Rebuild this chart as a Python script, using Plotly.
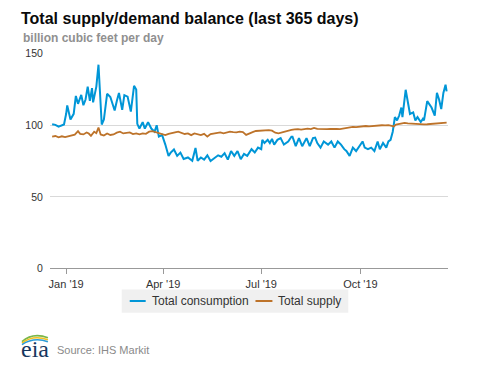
import pandas as pd
import plotly.graph_objects as go

# ---- data (day offsets from 2019-01-01, values in Bcf/d) ----
consumption_day = [-13, -10, -7, -5, -2, 0, 1, 4, 7, 9, 11, 14, 16, 18, 20, 22, 24, 25, 28, 30,
                   32, 33, 35, 38, 41, 45, 47, 49, 52, 54, 57, 60, 63, 65, 66, 68, 71, 73, 76, 79,
                   82, 84, 86, 89, 92, 95, 97, 100, 103, 106, 109, 113, 117, 120, 122, 125, 128, 131, 134, 137,
                   141, 144, 147, 150, 153, 156, 159, 162, 165, 168, 172, 175, 178, 181, 182, 184, 187, 189, 191, 193,
                   196, 199, 202, 206, 209, 210, 213, 216, 219, 223, 226, 229, 231, 233, 236, 239, 243, 246, 249, 252,
                   255, 258, 260, 263, 266, 269, 272, 275, 277, 280, 283, 286, 289, 291, 294, 297, 299, 301, 303, 305,
                   307, 309, 311, 312, 315, 317, 319, 322, 324, 326, 329, 331, 332, 335, 337, 339, 342, 344, 346, 348,
                   350, 352, 353]
consumption_val = [100.7, 100.3, 99.0, 99.5, 100.5, 108.0, 113.9, 104.0, 108.0, 120.5, 115.0, 121.2, 114.0, 118.0, 127.0, 117.0, 125.9, 116.0, 127.0, 142.3,
                   119.0, 100.5, 104.0, 122.0, 119.8, 110.3, 117.0, 122.6, 110.8, 121.0, 120.0, 109.6, 127.6, 125.0, 101.0, 97.7, 102.2, 97.7, 102.2, 97.7,
                   95.5, 100.0, 92.1, 93.2, 86.5, 78.6, 80.9, 83.1, 78.6, 80.9, 76.4, 77.5, 75.2, 84.2, 75.2, 77.5, 76.0, 79.0, 75.0, 77.0,
                   79.0, 78.0, 80.5, 76.0, 82.0, 78.6, 82.0, 76.3, 80.0, 78.6, 83.3, 81.0, 84.4, 83.3, 89.8, 87.6, 89.8, 87.6, 90.5, 86.5,
                   89.8, 91.0, 86.5, 88.7, 92.0, 92.0, 85.4, 91.0, 85.4, 91.0, 85.4, 91.0, 91.4, 87.6, 84.4, 88.7, 86.5, 88.7, 84.4, 88.7,
                   86.5, 83.3, 82.0, 78.6, 84.4, 82.0, 85.4, 88.7, 84.4, 83.3, 84.4, 82.0, 88.7, 83.3, 87.6, 84.4, 88.7, 89.8, 95.5, 105.7,
                   103.4, 106.8, 112.4, 105.7, 124.8, 116.9, 107.9, 109.0, 103.4, 105.7, 102.3, 104.5, 103.4, 116.9, 114.7, 112.4, 106.8, 122.6, 118.0, 111.3,
                   122.6, 128.3, 123.7]

supply_day = [-13, -10, -7, -4, -1, 2, 5, 8, 11, 13, 16, 19, 21, 23, 26, 28, 30, 32, 35, 38,
              41, 44, 47, 50, 53, 56, 59, 62, 65, 68, 71, 74, 77, 80, 83, 86, 89, 92, 95, 98,
              101, 104, 107, 110, 113, 116, 119, 122, 125, 128, 131, 134, 137, 140, 143, 146, 149, 152, 155, 158,
              161, 164, 167, 170, 173, 176, 179, 182, 185, 188, 191, 194, 197, 200, 203, 206, 209, 212, 215, 218,
              221, 224, 227, 230, 233, 236, 239, 242, 245, 248, 251, 254, 257, 260, 263, 266, 269, 272, 275, 278,
              281, 284, 287, 290, 293, 296, 299, 302, 304, 306, 309, 312, 314, 317, 320, 323, 326, 329, 332, 335,
              338, 341, 344, 347, 350, 353]
supply_val = [92.1, 92.5, 91.6, 92.3, 91.8, 92.4, 92.8, 93.5, 95.9, 94.0, 93.6, 95.0, 94.2, 92.6, 95.5, 94.5, 98.4, 93.6, 92.8, 94.3,
              93.2, 93.6, 94.8, 95.5, 94.3, 94.6, 95.0, 93.8, 94.3, 93.6, 94.3, 94.0, 95.5, 95.9, 95.2, 94.3, 93.8, 93.1, 94.0, 94.3,
              95.0, 95.5, 94.6, 93.9, 94.3, 93.1, 94.3, 93.8, 93.1, 94.0, 92.1, 93.8, 94.3, 94.6, 95.0, 94.3, 94.8, 95.5, 95.2, 95.0,
              95.5, 95.3, 93.3, 94.4, 95.2, 96.0, 96.2, 96.6, 96.4, 96.6, 96.2, 94.8, 94.4, 95.0, 95.8, 96.6, 96.8, 97.1, 97.3, 96.9,
              97.3, 97.6, 97.3, 98.2, 97.5, 97.3, 97.6, 97.3, 97.4, 97.7, 97.5, 97.3, 97.8, 98.2, 98.5, 98.9, 98.7, 99.0, 99.3, 99.5,
              99.2, 99.5, 99.6, 99.8, 100.0, 99.9, 100.1, 99.6, 99.2, 100.5, 101.1, 101.3, 101.6, 101.3, 101.1, 100.9, 100.7, 100.5, 100.6, 100.7,
              100.9, 101.1, 100.8, 101.2, 101.5, 101.8]

tick_dates = ["2019-01-01", "2019-04-01", "2019-07-01", "2019-10-01"]
tick_labels = ["Jan '19", "Apr '19", "Jul '19", "Oct '19"]
y_ticks = [0, 50, 100, 150]

title_text = "Total supply/demand balance (last 365 days)"
subtitle_text = "billion cubic feet per day"
source_text = "Source: IHS Markit"
series_names = ["Total consumption", "Total supply"]
colors = ["#0096d7", "#bd732a"]

# ---- figure ----
W, H = 477, 367
def px(x):
    return x / W
def py(y):
    return 1 - y / H

base = pd.Timestamp("2019-01-01")
c_dates = base + pd.to_timedelta(consumption_day, unit="D")
s_dates = base + pd.to_timedelta(supply_day, unit="D")

fig = go.Figure()
fig.add_trace(go.Scatter(x=c_dates, y=consumption_val, mode="lines", name=series_names[0],
                         line=dict(color=colors[0], width=2)))
fig.add_trace(go.Scatter(x=s_dates, y=supply_val, mode="lines", name=series_names[1],
                         line=dict(color=colors[1], width=1.8)))

font_main = "Liberation Sans, Arial, Helvetica, sans-serif"

fig.update_layout(
    width=W, height=H,
    margin=dict(l=0, r=0, t=0, b=0),
    paper_bgcolor="white", plot_bgcolor="white",
    showlegend=False,
    font=dict(family=font_main, color="#333333"),
    xaxis=dict(
        domain=[px(49), px(448)],
        range=["2018-12-16 22:00", "2019-12-21 08:00"],
        type="date",
        tickvals=tick_dates, ticktext=tick_labels,
        ticks="outside", ticklen=5, tickcolor="#999999", tickwidth=1,
        showline=True, linecolor="#999999", linewidth=1,
        showgrid=False, zeroline=False,
        tickfont=dict(size=11, color="#333333"),
        fixedrange=True,
    ),
    yaxis=dict(
        domain=[py(271.3), py(49.3)],
        range=[0, 150],
        tickvals=y_ticks,
        showgrid=True, gridcolor="#d9d9d9", gridwidth=1,
        zeroline=False, showline=False, ticks="",
        tickfont=dict(size=10.5, color="#333333"),
        ticklabelstandoff=6,
        fixedrange=True,
    ),
)

annotations = [
    dict(text="<b>" + title_text + "</b>", x=px(18), y=py(13), xref="paper", yref="paper",
         xanchor="left", yanchor="middle", showarrow=False,
         font=dict(size=16, color="#0a0a0a", family=font_main)),
    dict(text="<b>" + subtitle_text + "</b>", x=px(20), y=py(33), xref="paper", yref="paper",
         xanchor="left", yanchor="middle", showarrow=False,
         font=dict(size=12, color="#909090", family=font_main)),
    dict(text=series_names[0], x=px(149), y=py(305), xref="paper", yref="paper",
         xanchor="left", yanchor="middle", showarrow=False,
         font=dict(size=12, color="#333333", family=font_main)),
    dict(text=series_names[1], x=px(276), y=py(305), xref="paper", yref="paper",
         xanchor="left", yanchor="middle", showarrow=False,
         font=dict(size=12, color="#333333", family=font_main)),
    dict(text="eia", x=px(18), y=py(355), xref="paper", yref="paper",
         xanchor="left", yanchor="middle", showarrow=False,
         font=dict(size=24, color="#17375e", family="Liberation Serif, DejaVu Serif, serif")),
    dict(text=source_text, x=px(54), y=py(356), xref="paper", yref="paper",
         xanchor="left", yanchor="middle", showarrow=False,
         font=dict(size=11, color="#8a8a8a", family=font_main)),
]

shapes = [
    dict(type="rect", xref="paper", yref="paper", x0=px(121), x1=px(348), y0=py(317), y1=py(293),
         fillcolor="#f0f0f0", line=dict(width=0), layer="below"),
    dict(type="line", xref="paper", yref="paper", x0=px(129), x1=px(145), y0=py(305), y1=py(305),
         line=dict(color=colors[0], width=2)),
    dict(type="line", xref="paper", yref="paper", x0=px(255), x1=px(272), y0=py(305), y1=py(305),
         line=dict(color=colors[1], width=2)),
]

def arc(x0, y0, cx, cy, x1, y1):
    return f"M {px(x0)} {py(y0)} Q {px(cx)} {py(cy)} {px(x1)} {py(y1)}"

for path, col in [(arc(21, 347, 32, 337, 47, 343), "#7ab648"),
                  (arc(21, 348.5, 32, 339.5, 47, 345), "#f2c01e"),
                  (arc(21, 350, 33, 342, 47, 347), "#2b9bd6")]:
    shapes.append(dict(type="path", xref="paper", yref="paper", path=path,
                       line=dict(color=col, width=1.6)))

fig.update_layout(annotations=annotations, shapes=shapes)

fig.write_html("out.html", config={"displayModeBar": False},
               post_script="document.body.style.margin='0px';document.body.style.overflow='hidden';")
